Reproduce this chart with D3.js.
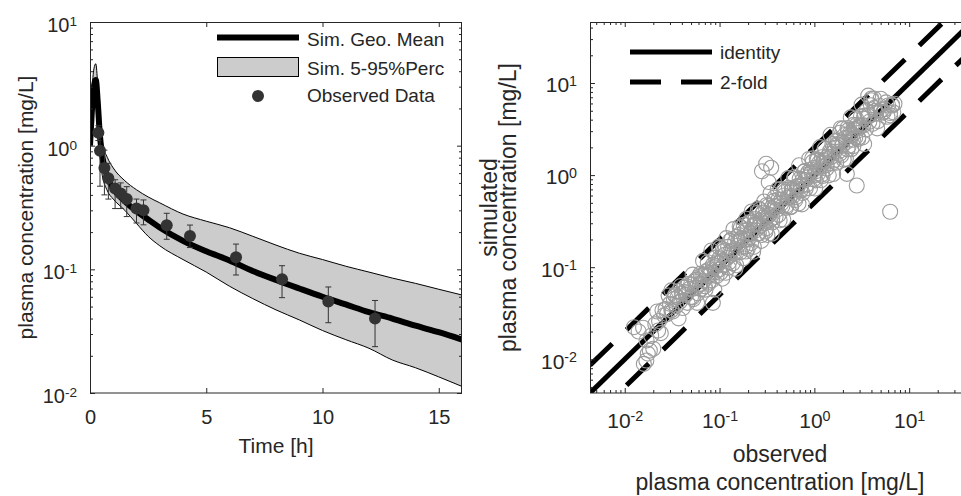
<!DOCTYPE html>
<html>
<head>
<meta charset="utf-8">
<script src="https://cdn.jsdelivr.net/npm/d3@7"></script>
<style>
body { margin: 0; background: #fff; }
text { font-family: "Liberation Sans", Arial, sans-serif; fill: #262626; }
</style>
</head>
<body>
<script>
// left panel: simulated time course
var simTime = [0, 0.08, 0.17, 0.25, 0.33, 0.42, 0.5, 0.75, 1, 1.5, 2, 2.5, 3, 4, 5, 6, 7, 8, 9, 10, 11, 12, 13, 14, 15, 16];
var simMean = [1.0, 1.9, 3.0, 3.4, 2.3, 1.25, 0.9, 0.56, 0.45, 0.355, 0.295, 0.253, 0.218, 0.17, 0.14, 0.118, 0.097, 0.082, 0.07, 0.06, 0.052, 0.045, 0.04, 0.035, 0.031, 0.027];
var simHigh = [1.0, 2.6, 4.2, 4.6, 3.2, 1.9, 1.1, 0.8, 0.66, 0.52, 0.44, 0.385, 0.345, 0.28, 0.245, 0.217, 0.185, 0.157, 0.135, 0.12, 0.106, 0.095, 0.085, 0.077, 0.069, 0.062];
var simLow  = [1.0, 1.5, 2.2, 2.5, 1.6, 0.95, 0.62, 0.43, 0.37, 0.3, 0.235, 0.185, 0.155, 0.12, 0.095, 0.073, 0.058, 0.047, 0.039, 0.032, 0.027, 0.023, 0.0185, 0.016, 0.0135, 0.0113];

// left panel: observed data with error bars
var obsTime = [0.36, 0.43, 0.62, 0.79, 1.08, 1.32, 1.58, 2.0, 2.3, 3.3, 4.3, 6.28, 8.26, 10.25, 12.26];
var obsConc = [1.27, 0.91, 0.66, 0.545, 0.45, 0.41, 0.37, 0.31, 0.30, 0.227, 0.186, 0.125, 0.083, 0.055, 0.040];
var obsLow  = [1.1, 0.47, 0.4, 0.37, 0.31, 0.31, 0.267, 0.237, 0.229, 0.175, 0.15, 0.090, 0.059, 0.037, 0.0237];
var obsHigh = [1.45, 1.35, 0.92, 0.72, 0.53, 0.5, 0.466, 0.37, 0.364, 0.284, 0.228, 0.160, 0.107, 0.072, 0.056];

// right panel: observed vs simulated
var gofObserved = [
  0.0125,0.0156,0.0159,0.0169,0.0184,0.017,0.0225,0.019,0.021,0.02,0.0175,0.014,0.023,0.026,0.028,0.025,
  0.030,0.031,0.032,0.033,0.034,0.035,0.036,0.037,0.038,0.040,0.041,0.042,0.044,0.045,0.046,0.048,0.050,0.052,0.053,0.055,
  0.057,0.059,0.060,0.062,0.064,0.066,0.068,0.070,0.072,0.074,0.076,0.078,0.080,0.083,0.085,0.087,0.090,0.093,0.096,0.099,
  0.045,0.05,0.056,0.062,0.069,0.077,0.085,0.094,
  0.10,0.102,0.105,0.108,0.11,0.113,0.116,0.12,0.123,0.126,0.13,0.134,0.138,0.142,0.146,0.15,0.155,0.16,0.165,0.17,
  0.175,0.18,0.186,0.19,0.196,0.2,0.21,0.215,0.22,0.23,0.235,0.24,0.25,0.26,0.27,0.28,0.29,0.3,0.31,0.32,
  0.33,0.34,0.35,0.36,0.37,0.38,0.39,0.4,0.42,0.43,0.45,0.46,0.48,0.5,0.52,0.54,0.56,0.58,0.6,0.62,
  0.64,0.66,0.68,0.7,0.72,0.75,0.78,0.8,0.83,0.86,0.9,0.93,0.96,0.99,
  0.15,0.17,0.19,0.21,0.23,0.25,0.27,0.29,0.31,0.33,0.36,0.39,0.42,0.45,0.48,0.51,0.55,0.59,0.63,0.67,
  0.71,0.76,0.81,0.86,0.92,0.98,1.05,1.12,1.19,1.27,1.35,1.44,1.53,1.63,1.74,1.85,1.97,2.1,2.24,2.4,
  2.55,2.7,2.9,3.1,3.3,
  1.0,1.03,1.06,1.1,1.13,1.17,1.2,1.25,1.3,1.34,1.38,1.42,1.46,1.5,1.55,1.6,1.65,1.7,1.75,1.8,
  1.86,1.92,1.98,2.04,2.1,2.17,2.24,2.3,2.38,2.45,2.52,2.6,2.7,2.8,2.9,3.0,3.1,3.2,3.3,3.4,
  3.5,3.65,3.8,3.95,4.1,4.3,4.5,4.7,4.9,5.1,5.4,5.7,6.0,6.3,6.6,7.0,
  3.7,6.6,6.3,6.3,2.2,2.8,0.31,0.35,0.33,0.28,4.0,4.4,5.5,6.8,5.9,
  0.052,0.058,0.063,0.067,0.071,0.075,0.079,0.082,0.088,0.091,0.095,0.098,
  0.101,0.107,0.112,0.118,0.124,0.129,0.135,0.14,0.147,0.153,0.158,0.163,0.168,0.178,0.184,0.192,0.198,0.205,
  0.212,0.218,0.226,0.238,0.245,0.255,0.265,0.275,0.285,0.295,0.305,0.315,0.325,0.345,0.355,0.375,0.385,0.41,0.44,0.47,
  0.49,0.53,0.57,0.61,0.65,0.69,0.74,0.79,0.84,0.88,0.95,1.02,1.08,1.15,1.22,1.28,1.36,1.48,1.58,1.68,
  1.78,1.9,2.0,2.15,2.28,2.42,2.58,2.75,2.95,3.15,3.35,3.55,3.75,4.0,4.25,4.6,5.0,5.3,
  0.022,0.024,0.027,0.029,0.031,0.034,0.037,0.039,0.043,0.047
];
var gofSimulated = [
  0.0223,0.022,0.0089,0.0097,0.0124,0.016,0.0205,0.018,0.024,0.013,0.0115,0.02,0.026,0.03,0.031,0.034,
  0.040,0.056,0.033,0.045,0.050,0.038,0.047,0.055,0.042,0.052,0.036,0.060,0.050,0.062,0.041,0.058,0.065,0.047,0.045,0.070,
  0.060,0.052,0.078,0.066,0.058,0.082,0.071,0.062,0.090,0.080,0.066,0.095,0.083,0.072,0.041,0.100,0.088,0.080,0.110,0.094,
  0.052,0.0475,0.0728,0.0651,0.0828,0.0693,0.106,0.103,
  0.125,0.087,0.116,0.157,0.105,0.136,0.087,0.126,0.166,0.113,0.150,0.201,0.110,0.142,0.190,0.105,0.171,0.224,0.145,0.207,
  0.166,0.288,0.201,0.148,0.255,0.2,0.305,0.183,0.253,0.166,0.294,0.252,0.388,0.234,0.324,0.224,0.392,0.3,0.341,0.224,
  0.462,0.323,0.438,0.306,0.426,0.57,0.351,0.42,0.546,0.323,0.54,0.46,0.696,0.44,0.572,0.729,0.448,0.696,0.6,0.961,
  0.576,0.759,0.49,0.91,0.756,0.638,1.092,0.88,0.789,1.075,0.72,1.07,1.392,0.99,
  0.143,0.201,0.167,0.231,0.288,0.23,0.284,0.348,0.264,0.37,0.342,0.46,0.37,0.495,0.6,0.469,0.578,0.708,0.536,0.75,
  0.675,0.897,0.713,0.946,1.15,0.902,1.103,1.344,1.012,1.422,1.283,1.699,1.346,1.793,2.175,1.702,2.069,2.52,1.904,2.688,
  2.423,3.186,2.552,3.41,4.125,
  1.2,0.876,1.484,1.045,1.243,0.878,1.56,1.25,1.95,1.179,1.587,0.994,1.825,1.575,2.17,1.44,1.98,1.36,2.363,1.8,
  2.883,1.632,2.277,1.469,2.73,2.279,3.248,2.07,2.856,1.911,2.772,3.51,2.565,3.5,2.465,3.45,4.34,2.56,3.465,4.42,
  3.15,4.38,3.8,5.728,3.608,5.375,4.725,3.854,5.635,5.1,4.86,6.156,5.7,4.725,5.808,5.95,
  7.3,5.7,4.45,0.40,1.03,0.77,1.33,1.2,0.84,1.1,6.5,5.0,5.2,4.8,4.3,
  0.083,0.041,0.085,0.117,0.057,0.113,0.087,0.152,0.057,0.127,0.114,0.167,
  0.162,0.075,0.151,0.207,0.099,0.194,0.149,0.259,0.096,0.214,0.19,0.277,0.269,0.125,0.248,0.336,0.158,0.308,
  0.233,0.403,0.147,0.333,0.294,0.434,0.424,0.193,0.385,0.516,0.244,0.473,0.358,0.638,0.231,0.525,0.462,0.697,0.704,0.329,
  0.662,0.928,0.456,0.915,0.715,1.277,0.481,1.106,1.008,1.496,1.52,0.714,1.458,2.013,0.976,1.92,1.496,2.738,1.027,2.352,
  2.136,3.23,3.2,1.505,3.078,4.235,2.064,4.125,3.245,5.828,2.178,4.97,4.5,6.8,6.8,3.22,6.75,4.77,
  0.033,0.0192,0.0351,0.0493,0.0341,0.0493,0.0278,0.0624,0.0538,0.0658
];

var gofRange = [0.0043, 46];
var foldFactors = [1, 2, 0.5];

var timeTicks = [0, 5, 10, 15];
var concTicks = [0.01, 0.1, 1, 10];
var gofTicks = [0.01, 0.1, 1, 10];
var legendLeft = ['Sim. Geo. Mean', 'Sim. 5-95%Perc', 'Observed Data'];
var legendRight = ['identity', '2-fold'];

var svgWidth = 961, svgHeight = 496;
var ink = '#262626';

var svg = d3.select('body').append('svg')
    .attr('width', svgWidth)
    .attr('height', svgHeight);

svg.append('rect').attr('width', svgWidth).attr('height', svgHeight).attr('fill', '#fff');

var tcX = d3.scaleLinear().domain([0, 16]).range([90, 462]);
var tcY = d3.scaleLog().domain([0.01, 10]).range([393, 22]);
var gofX = d3.scaleLog().domain(gofRange).range([590, 972]);
var gofY = d3.scaleLog().domain(gofRange).range([393, 22]);

function minorTicks(domain) {
  var out = [];
  var lo = Math.floor(Math.log10(domain[0])), hi = Math.ceil(Math.log10(domain[1]));
  for (var e = lo; e < hi; e++) {
    for (var k = 2; k <= 9; k++) {
      var v = k * Math.pow(10, e);
      if (v >= domain[0] && v <= domain[1]) out.push(v);
    }
  }
  return out;
}

function powLabel(sel) {
  sel.each(function (d) {
    var t = d3.select(this);
    t.text(null);
    t.append('tspan').text('10');
    t.append('tspan').attr('dy', '-0.45em').attr('font-size', '0.68em').text(Math.round(Math.log10(d)));
  });
}

// draw an axis with inward ticks; labels optional
function axisLayer(axisFn, scale, pos, ticks, size, labels, fs, pad) {
  var ax = axisFn(scale).tickValues(ticks).tickSizeInner(-size).tickSizeOuter(0).tickPadding(pad || 0);
  if (!labels) ax.tickFormat('');
  var g = svg.append('g').attr('transform', pos).call(ax)
      .attr('color', ink).attr('font-family', null).attr('font-size', fs || 10);
  g.select('.domain').remove();
  return g;
}

// ---------- left panel ----------
svg.append('clipPath').attr('id', 'clipL').append('rect')
    .attr('x', 90).attr('y', 22).attr('width', 372).attr('height', 371);

var plotL = svg.append('g').attr('clip-path', 'url(#clipL)');

var band = d3.area()
    .x(function (d, i) { return tcX(simTime[i]); })
    .y0(function (d, i) { return tcY(simLow[i]); })
    .y1(function (d, i) { return tcY(simHigh[i]); })
    .curve(d3.curveMonotoneX);

plotL.append('path').datum(simTime).attr('d', band).attr('fill', '#cccccc').attr('stroke', 'none');

var bandEdge = function (arr) {
  return d3.line().x(function (d, i) { return tcX(simTime[i]); })
      .y(function (d, i) { return tcY(arr[i]); }).curve(d3.curveMonotoneX);
};
[simHigh, simLow].forEach(function (arr) {
  plotL.append('path').datum(simTime).attr('d', bandEdge(arr))
      .attr('fill', 'none').attr('stroke', '#000').attr('stroke-width', 1);
});

plotL.append('path').datum(simTime).attr('d', bandEdge(simMean))
    .attr('fill', 'none').attr('stroke', '#000').attr('stroke-width', 6)
    .attr('stroke-linejoin', 'round');

var errG = plotL.append('g').attr('stroke', '#333').attr('stroke-width', 1);
obsTime.forEach(function (t, i) {
  var x = tcX(t);
  errG.append('line').attr('x1', x).attr('x2', x).attr('y1', tcY(obsLow[i])).attr('y2', tcY(obsHigh[i]));
  errG.append('line').attr('x1', x - 3).attr('x2', x + 3).attr('y1', tcY(obsLow[i])).attr('y2', tcY(obsLow[i]));
  errG.append('line').attr('x1', x - 3).attr('x2', x + 3).attr('y1', tcY(obsHigh[i])).attr('y2', tcY(obsHigh[i]));
});

plotL.selectAll('circle.obs')
    .data(obsTime)
    .enter()
    .append('circle')
    .attr('class', 'obs')
    .attr('cx', function (d) { return tcX(d); })
    .attr('cy', function (d, i) { return tcY(obsConc[i]); })
    .attr('r', 6)
    .attr('fill', '#333');

// left axes
axisLayer(d3.axisBottom, tcX, 'translate(0,393)', timeTicks, 5, true, 20, 17);
axisLayer(d3.axisTop, tcX, 'translate(0,22)', timeTicks, 5, false);
var gLL = axisLayer(d3.axisLeft, tcY, 'translate(90,0)', concTicks, 5, true, 20, 13);
gLL.selectAll('text').call(powLabel).attr('dy', '0.48em');
axisLayer(d3.axisLeft, tcY, 'translate(90,0)', minorTicks(tcY.domain()), 3, false);
axisLayer(d3.axisRight, tcY, 'translate(462,0)', concTicks, 5, false);
axisLayer(d3.axisRight, tcY, 'translate(462,0)', minorTicks(tcY.domain()), 3, false);

svg.append('rect').attr('x', 90.5).attr('y', 22.5).attr('width', 371).attr('height', 370.5)
    .attr('fill', 'none').attr('stroke', ink).attr('stroke-width', 1);

svg.append('text').attr('x', 276).attr('y', 453).attr('text-anchor', 'middle')
    .attr('font-size', 21).text('Time [h]');
svg.append('text').attr('transform', 'translate(33,207.5) rotate(-90)').attr('text-anchor', 'middle')
    .attr('font-size', 21).text('plasma concentration [mg/L]');

// left legend
var legL = svg.append('g');
legL.append('line').attr('x1', 217).attr('x2', 299).attr('y1', 37.5).attr('y2', 37.5)
    .attr('stroke', '#000').attr('stroke-width', 6);
legL.append('rect').attr('x', 217.5).attr('y', 57.5).attr('width', 81).attr('height', 19)
    .attr('fill', '#cccccc').attr('stroke', '#000').attr('stroke-width', 1);
legL.append('circle').attr('cx', 258).attr('cy', 96).attr('r', 6).attr('fill', '#333');
legL.selectAll('text').data(legendLeft).enter().append('text')
    .attr('x', 307)
    .attr('y', function (d, i) { return [45.5, 74.5, 102][i]; })
    .attr('font-size', 19)
    .text(function (d) { return d; });

// ---------- right panel ----------
svg.append('clipPath').attr('id', 'clipR').append('rect')
    .attr('x', 590).attr('y', 22).attr('width', 382).attr('height', 371);
var plotR = svg.append('g').attr('clip-path', 'url(#clipR)');

foldFactors.forEach(function (f) {
  var pts = gofRange.map(function (v) { return [gofX(v), gofY(v * f)]; });
  var p = plotR.append('path').attr('d', d3.line()(pts))
      .attr('fill', 'none').attr('stroke', '#000').attr('stroke-width', 5);
  if (f !== 1) p.attr('stroke-dasharray', '31,20');
});

plotR.selectAll('circle.gof')
    .data(gofObserved)
    .enter()
    .append('circle')
    .attr('class', 'gof')
    .attr('cx', function (d) { return gofX(d); })
    .attr('cy', function (d, i) { return gofY(gofSimulated[i]); })
    .attr('r', 7.5)
    .attr('fill', 'none')
    .attr('stroke', '#9c9c9c')
    .attr('stroke-width', 1.1);

var gofMinor = minorTicks(gofRange);
var gRB = axisLayer(d3.axisBottom, gofX, 'translate(0,393)', gofTicks, 5, true, 21, 20);
gRB.selectAll('text').call(powLabel);
axisLayer(d3.axisBottom, gofX, 'translate(0,393)', gofMinor, 3, false);
axisLayer(d3.axisTop, gofX, 'translate(0,22)', gofTicks, 5, false);
axisLayer(d3.axisTop, gofX, 'translate(0,22)', gofMinor, 3, false);
var gRL = axisLayer(d3.axisLeft, gofY, 'translate(590,0)', gofTicks, 5, true, 21, 13);
gRL.selectAll('text').call(powLabel).attr('dy', '0.42em');
axisLayer(d3.axisLeft, gofY, 'translate(590,0)', gofMinor, 3, false);

svg.append('rect').attr('x', 590.5).attr('y', 22.5).attr('width', 381).attr('height', 370.5)
    .attr('fill', 'none').attr('stroke', ink).attr('stroke-width', 1);

svg.append('text').attr('x', 780).attr('y', 461.5).attr('text-anchor', 'middle')
    .attr('font-size', 23).text('observed');
svg.append('text').attr('x', 780).attr('y', 490).attr('text-anchor', 'middle')
    .attr('font-size', 23).text('plasma concentration [mg/L]');
svg.append('text').attr('transform', 'translate(497,207.5) rotate(-90)').attr('text-anchor', 'middle')
    .attr('font-size', 23).text('simulated');
svg.append('text').attr('transform', 'translate(516,207.5) rotate(-90)').attr('text-anchor', 'middle')
    .attr('font-size', 23).text('plasma concentration [mg/L]');

// right legend
var legR = svg.append('g');
legR.append('line').attr('x1', 630).attr('x2', 712).attr('y1', 52).attr('y2', 52)
    .attr('stroke', '#000').attr('stroke-width', 5);
legR.append('line').attr('x1', 630).attr('x2', 712).attr('y1', 82).attr('y2', 82)
    .attr('stroke', '#000').attr('stroke-width', 5).attr('stroke-dasharray', '31,20');
legR.selectAll('text').data(legendRight).enter().append('text')
    .attr('x', 720)
    .attr('y', function (d, i) { return [59, 88.5][i]; })
    .attr('font-size', 19)
    .text(function (d) { return d; });
</script>
</body>
</html>
